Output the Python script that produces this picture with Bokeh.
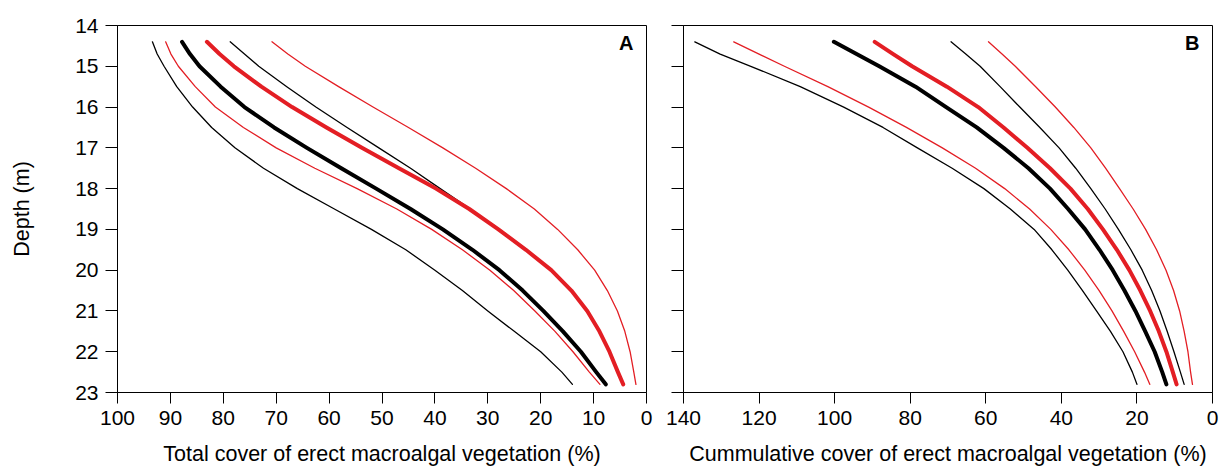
from bokeh.plotting import figure
from bokeh.models import Range1d, FixedTicker, Label
from bokeh.layouts import row
from bokeh.embed import file_html
from bokeh.resources import INLINE

# depth (m) at which each curve was read
depth = [14.4, 14.7, 15, 15.5, 16, 16.5, 17, 17.5, 18, 18.5, 19, 19.5, 20, 20.5, 21, 21.5, 22, 22.5, 22.8]

# Panel A: total cover of erect macroalgal vegetation (%)
a_black_thin_1 = [93.4, 92.5, 91.2, 88.8, 85.8, 82.2, 77.8, 72.4, 66.0, 59.0, 52.0, 45.5, 40.0, 34.8, 30.0, 25.0, 20.0, 16.0, 14.0]
a_red_thin_1 = [90.9, 89.9, 88.5, 85.3, 81.5, 76.2, 70.0, 62.7, 54.7, 47.2, 40.6, 34.8, 29.6, 25.1, 21.1, 17.3, 13.9, 10.8, 8.8]
a_black_thick = [87.8, 86.3, 84.5, 80.5, 76.0, 70.4, 64.2, 57.7, 51.1, 44.6, 38.5, 32.9, 27.8, 23.4, 19.5, 15.8, 12.4, 9.5, 7.7]
a_red_thick = [83.1, 80.7, 78.0, 72.8, 67.0, 60.5, 53.8, 46.8, 39.8, 33.5, 28.0, 22.8, 18.0, 14.2, 11.2, 8.9, 7.0, 5.4, 4.4]
a_black_thin_2 = [78.7, 76.0, 73.3, 68.0, 62.5, 56.6, 50.6, 44.6, 39.0, 33.3, 27.8, 22.6, 17.9, 14.1, 11.1, 8.8, 6.9, 5.3, 4.3]
a_red_thin_2 = [70.8, 67.8, 64.5, 58.2, 51.7, 45.0, 38.5, 32.3, 26.5, 21.2, 16.8, 13.0, 9.8, 7.4, 5.5, 4.1, 3.1, 2.4, 2.0]

# Panel B: cummulative cover of erect macroalgal vegetation (%)
b_black_thin_1 = [137.0, 130.3, 122.2, 109.1, 97.6, 87.2, 78.1, 68.9, 60.5, 53.5, 47.2, 42.5, 38.3, 34.4, 30.7, 27.0, 23.7, 21.2, 20.0]
b_red_thin_1 = [126.7, 120.0, 113.3, 101.8, 91.0, 81.0, 71.5, 62.7, 55.0, 48.4, 42.8, 38.0, 33.8, 30.0, 26.6, 23.5, 20.6, 18.0, 16.6]
b_black_thick = [100.2, 94.2, 88.2, 78.6, 70.5, 62.4, 55.3, 48.7, 43.0, 38.2, 33.7, 29.9, 26.4, 23.3, 20.4, 17.8, 15.3, 13.3, 12.2]
b_red_thick = [89.4, 84.5, 79.5, 70.3, 62.0, 55.3, 49.0, 43.0, 37.6, 33.0, 29.0, 25.3, 22.0, 19.1, 16.5, 14.2, 12.2, 10.5, 9.5]
b_black_thin_2 = [69.2, 65.3, 61.5, 56.2, 51.0, 45.7, 40.6, 36.2, 32.2, 28.4, 24.9, 21.6, 18.6, 16.1, 13.9, 12.0, 10.2, 8.5, 7.5]
b_red_thin_2 = [59.3, 55.7, 52.2, 46.8, 41.6, 36.7, 32.2, 28.3, 24.6, 21.0, 17.7, 14.8, 12.3, 10.3, 8.7, 7.5, 6.5, 5.8, 5.3]

depth_ticks = [14, 15, 16, 17, 18, 19, 20, 21, 22, 23]
a_ticks = [0, 10, 20, 30, 40, 50, 60, 70, 80, 90, 100]
b_ticks = [0, 20, 40, 60, 80, 100, 120, 140]

RED = "#e31e24"
BLACK = "#000000"
FONT = "Liberation Sans"
THIN = 1.3
THICK = 4


def style(p, xticks):
    p.xgrid.visible = False
    p.ygrid.visible = False
    p.outline_line_color = "black"
    p.outline_line_width = 1
    p.background_fill_color = "white"
    p.border_fill_color = "white"
    for ax in (p.xaxis[0], p.yaxis[0]):
        ax.major_tick_in = 0
        ax.major_tick_out = 12
        ax.minor_tick_line_color = None
        ax.axis_line_color = "black"
        ax.major_tick_line_color = "black"
        ax.major_label_text_font = FONT
        ax.major_label_text_font_size = "21px"
        ax.major_label_text_color = "black"
        ax.axis_label_text_font = FONT
        ax.axis_label_text_font_size = "21.5px"
        ax.axis_label_text_font_style = "normal"
        ax.axis_label_text_color = "black"
    p.xaxis.ticker = FixedTicker(ticks=xticks)
    p.yaxis.ticker = FixedTicker(ticks=depth_ticks)
    p.xaxis.major_tick_out = 11
    p.xaxis.major_label_standoff = 7
    p.xaxis.axis_label_standoff = 14
    p.yaxis.major_label_standoff = 7


def draw(p, series):
    # thin lines first, thick on top
    for xs, color, w in series:
        p.line(xs, depth, line_color=color, line_width=w, line_cap="round", line_join="round")


pa = figure(frame_width=529, frame_height=367, output_backend="svg", toolbar_location=None,
            x_range=Range1d(100, 0), y_range=Range1d(23, 14),
            min_border_left=117, min_border_right=14, min_border_top=25, min_border_bottom=76)
style(pa, a_ticks)
pa.xaxis.axis_label = "Total cover of erect macroalgal vegetation (%)"
pa.yaxis.axis_label = "Depth (m)"
pa.yaxis.axis_label_standoff = 38
draw(pa, [
    (a_black_thin_1, BLACK, THIN), (a_red_thin_1, RED, THIN),
    (a_black_thin_2, BLACK, THIN), (a_red_thin_2, RED, THIN),
    (a_black_thick, BLACK, THICK), (a_red_thick, RED, THICK),
])
pa.add_layout(Label(x=2.46, y=14.15, text="A", text_align="right", text_baseline="top",
                    text_font=FONT, text_font_size="20px", text_font_style="bold", text_color="black"))

pb = figure(frame_width=529, frame_height=367, output_backend="svg", toolbar_location=None,
            x_range=Range1d(140, 0), y_range=Range1d(23, 14),
            min_border_left=23, min_border_right=9, min_border_top=25, min_border_bottom=76)
style(pb, b_ticks)
pb.xaxis.axis_label = "Cummulative cover of erect macroalgal vegetation (%)"
pb.yaxis.major_label_overrides = {t: "" for t in depth_ticks}
pb.yaxis.major_label_standoff = 0
draw(pb, [
    (b_black_thin_1, BLACK, THIN), (b_red_thin_1, RED, THIN),
    (b_black_thin_2, BLACK, THIN), (b_red_thin_2, RED, THIN),
    (b_black_thick, BLACK, THICK), (b_red_thick, RED, THICK),
])
pb.add_layout(Label(x=3.45, y=14.15, text="B", text_align="right", text_baseline="top",
                    text_font=FONT, text_font_size="20px", text_font_style="bold", text_color="black"))

layout = row(pa, pb, spacing=0)
open("out.html", "w").write(file_html(layout, INLINE))
